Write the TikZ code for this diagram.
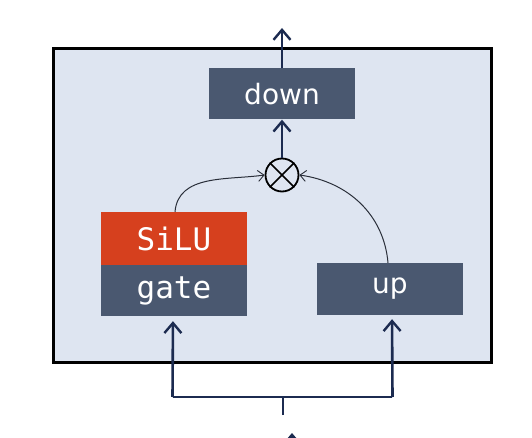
\documentclass[tikz,border=0pt]{standalone}
\usepackage{fontspec}
\setmainfont{DejaVu Sans}
\newfontfamily\monofnt{DejaVu Sans Mono}
\usetikzlibrary{arrows.meta,calc}
\definecolor{bgblue}{HTML}{DEE5F1}
\definecolor{slate}{HTML}{4A5870}
\definecolor{silured}{HTML}{D6401E}
\definecolor{navy}{HTML}{1C2B50}
\definecolor{curvegray}{HTML}{2A2F3A}
\tikzset{
  blk/.style={fill=slate, text=white, minimum width=146pt, inner sep=0pt, font=\fontsize{28}{28}\selectfont},
  monoblk/.style={blk, font=\monofnt\fontsize{31}{31}\selectfont},
  conn/.style={draw=navy, line width=2.6pt, -{Straight Barb[length=10pt,width=17pt,line width=2.4pt]}},
  plainconn/.style={draw=navy, line width=2.6pt},
  curve/.style={draw=curvegray, line width=1pt, -{Straight Barb[length=6pt,width=11pt,line width=0.9pt]}},
}
\begin{document}
\begin{tikzpicture}[x=1pt,y=-1pt]
\useasboundingbox[fill=white] (0,0) rectangle (532,438);
\draw[fill=bgblue, line width=3pt, draw=black] (53,49) rectangle (491,362);
\node[blk, minimum height=51pt] (down) at (282,94) {down};
\node[draw=black, line width=1.8pt, circle, minimum size=33pt, inner sep=0pt] (mul) at (282,175) {};
\draw[black, line width=1.6pt] (mul.45) -- (mul.225) (mul.135) -- (mul.315);
\node[monoblk, fill=silured, minimum height=53pt] (silu) at (174,238.5) {SiLU};
\node[monoblk, minimum height=51pt] (gate) at (174,290.5) {gate};
\node[blk, minimum height=52pt] (up) at (390,289) {up};
\coordinate (top) at (282,28);
\coordinate (junc) at (283,397);
\coordinate (stub) at (283,415);
\coordinate (jl) at (173,397);
\coordinate (jr) at (392,397);
\coordinate (inbot) at (292,470);
\coordinate (intop) at (292,433);
\draw[conn] (down.north) -- (top);
\draw[conn] (mul.north) -- (down.south);
\draw[curve] ($(silu.north)+(1,0)$) to[out=85,in=188] (mul.west);
\draw[curve] ($(up.north)+(-2,0)$) to[out=95,in=-8] (mul.east);
\draw[plainconn] (stub) -- (junc);
\draw[plainconn] (jl) -- (jr);
\draw[conn, shorten >=5pt] ([xshift=-0.5pt]jl) -- (jl |- gate.south);
\draw[conn, shorten >=4pt] ([xshift=0.5pt]jr) -- (jr |- up.south);
\draw[conn] (inbot) -- (intop);
\end{tikzpicture}
\end{document}
